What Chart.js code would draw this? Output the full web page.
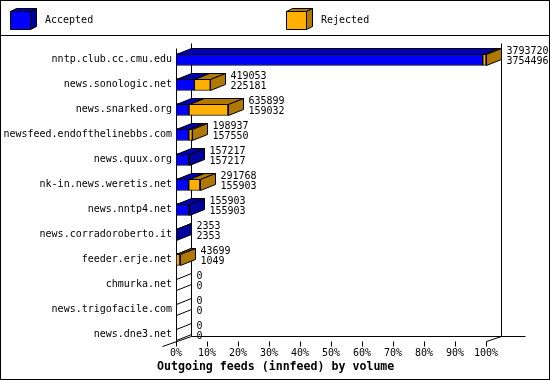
<!DOCTYPE html>
<html>
<head>
<meta charset="utf-8">
<script src="https://cdn.jsdelivr.net/npm/chart.js@4/dist/chart.umd.min.js"></script>
<style>
  body { margin: 0; background: #fff; }
  canvas { display: block; }
</style>
</head>
<body>
<canvas id="feeds" width="550" height="380"></canvas>
<script>
// innfeed outgoing feeds, by volume
const hosts = [
  "nntp.club.cc.cmu.edu",
  "news.sonologic.net",
  "news.snarked.org",
  "newsfeed.endofthelinebbs.com",
  "news.quux.org",
  "nk-in.news.weretis.net",
  "news.nntp4.net",
  "news.corradoroberto.it",
  "feeder.erje.net",
  "chmurka.net",
  "news.trigofacile.com",
  "news.dne3.net",
];
const offered = [3793720, 419053, 635899, 198937, 157217, 291768, 155903, 2353, 43699, 0, 0, 0];
const accepted = [3754496, 225181, 159032, 157550, 157217, 155903, 155903, 2353, 1049, 0, 0, 0];
const seriesNames = ["Accepted", "Rejected"];
const percentTicks = [0, 10, 20, 30, 40, 50, 60, 70, 80, 90, 100];
const chartTitle = "Outgoing feeds (innfeed) by volume";

const front = ["#0000FF", "#FFB000"];
const topShade = ["#0000B0", "#B07800"];
const sideShade = ["#00009C", "#B07800"];

const maxOffered = Math.max(...offered);
const pct = (v) => (v / maxOffered) * 100;
const rejected = offered.map((v, i) => v - accepted[i]);

const MONO = "'DejaVu Sans Mono', monospace";
const BAR = 12;
const DX = 15, DY = -6;   // bar depth
const WDY = -5;           // wall depth

const px = (v) => Math.round(v) + 0.5;

function face(ctx, pts, fill) {
  ctx.beginPath();
  ctx.moveTo(pts[0][0], pts[0][1]);
  for (let k = 1; k < pts.length; k++) ctx.lineTo(pts[k][0], pts[k][1]);
  ctx.closePath();
  if (fill) {
    ctx.fillStyle = fill;
    ctx.fill();
  }
  ctx.strokeStyle = "#000";
  ctx.lineWidth = 1;
  ctx.stroke();
}

function line(ctx, x1, y1, x2, y2) {
  ctx.beginPath();
  ctx.moveTo(x1, y1);
  ctx.lineTo(x2, y2);
  ctx.stroke();
}

const box3d = {
  id: "box3d",
  beforeDatasetsDraw(chart) {
    const { ctx, scales } = chart;
    const xs = scales.x, ys = scales.y;
    const left = px(xs.getPixelForValue(0));
    const right = px(xs.getPixelForValue(100));
    const topY = px(ys.getPixelForValue(0) - BAR / 2 - 6);
    const floorY = px(ys.getPixelForValue(hosts.length - 1) + BAR / 2);
    ctx.save();
    ctx.strokeStyle = "#000";
    ctx.lineWidth = 1;
    // walls
    line(ctx, left, topY, left, floorY);
    line(ctx, left + DX, topY + WDY, left + DX, floorY + WDY);
    line(ctx, right + DX, topY + WDY, right + DX, floorY + WDY);
    line(ctx, left + DX, floorY + WDY, right + DX + 24, floorY + WDY);
    line(ctx, left - 14, floorY + 5, left + DX, floorY + WDY);
    line(ctx, right, floorY, right + DX, floorY + WDY);
    // ticks on the front edge
    percentTicks.forEach((t) => {
      const x = px(xs.getPixelForValue(t));
      line(ctx, x, floorY, x, floorY + 5);
    });
    ctx.restore();
  },
  afterDatasetsDraw(chart) {
    const { ctx, scales } = chart;
    const left = scales.x.getPixelForValue(0);
    ctx.save();
    hosts.forEach((h, i) => {
      const segs = [];
      let yc = 0;
      chart.data.datasets.forEach((ds, d) => {
        const el = chart.getDatasetMeta(d).data[i];
        const p = el.getProps(["x", "base", "y"], true);
        yc = p.y;
        if (p.x - p.base > 0.01) segs.push({ x0: p.base, x1: p.x, d });
      });
      const yt = px(yc - BAR / 2);
      const yb = px(yc + BAR / 2) - 1;
      segs.forEach((s) => {
        const a = px(s.x0), b = px(s.x1);
        face(ctx, [[a, yt], [b, yt], [b + DX, yt + DY], [a + DX, yt + DY]], topShade[s.d]);
      });
      const last = segs[segs.length - 1];
      const end = px(last ? last.x1 : left);
      face(ctx, [[end, yt], [end + DX, yt + DY], [end + DX, yb + DY], [end, yb]],
        last ? sideShade[last.d] : null);
      // values: offered over accepted
      ctx.fillStyle = "#000";
      ctx.font = "10px " + MONO;
      ctx.textAlign = "left";
      ctx.textBaseline = "middle";
      ctx.fillText(String(offered[i]), end + DX + 5, yc - 8);
      ctx.fillText(String(accepted[i]), end + DX + 5, yc + 2);
    });
    ctx.restore();
  },
  afterDraw(chart) {
    const { ctx, width, height } = chart;
    ctx.save();
    ctx.strokeStyle = "#000";
    ctx.lineWidth = 1;
    ctx.strokeRect(0.5, 0.5, width - 1, height - 1);
    line(ctx, 0, 35.5, width, 35.5);
    // legend
    const spots = [10, 286];
    ctx.font = "10px " + MONO;
    ctx.textBaseline = "middle";
    ctx.textAlign = "left";
    seriesNames.forEach((name, d) => {
      const x = spots[d] + 0.5, y = 11.5, w = 20, hh = 18;
      face(ctx, [[x, y], [x + w, y], [x + w, y + hh], [x, y + hh]], front[d]);
      face(ctx, [[x, y], [x + w, y], [x + w + 6, y - 3], [x + 6, y - 3]], topShade[d]);
      face(ctx, [[x + w, y], [x + w + 6, y - 3], [x + w + 6, y + hh - 3], [x + w, y + hh]], sideShade[d]);
      ctx.fillStyle = "#000";
      ctx.fillText(name, spots[d] + 35, 20);
    });
    // title
    ctx.font = "bold 11.6px " + MONO;
    ctx.fillText(chartTitle, 157, 367);
    ctx.restore();
  },
};

new Chart(document.getElementById("feeds"), {
  type: "bar",
  data: {
    labels: hosts,
    datasets: [
      {
        label: seriesNames[0],
        data: accepted.map(pct),
        backgroundColor: front[0],
        borderColor: "#000",
        borderWidth: 1,
        borderSkipped: false,
        barThickness: BAR,
      },
      {
        label: seriesNames[1],
        data: rejected.map(pct),
        backgroundColor: front[1],
        borderColor: "#000",
        borderWidth: 1,
        borderSkipped: false,
        barThickness: BAR,
      },
    ],
  },
  options: {
    indexAxis: "y",
    responsive: false,
    animation: false,
    devicePixelRatio: 1,
    layout: { padding: { top: 47, left: 0, right: 64, bottom: 19 } },
    plugins: {
      legend: { display: false },
      tooltip: { enabled: false },
    },
    scales: {
      x: {
        stacked: true,
        min: 0,
        max: 100,
        afterFit: (s) => { s.height = 14; },
        afterBuildTicks: (s) => { s.ticks = percentTicks.map((v) => ({ value: v })); },
        grid: { display: false, drawTicks: false },
        border: { display: false },
        ticks: {
          color: "#000",
          padding: 0,
          maxRotation: 0,
          font: { family: MONO, size: 10 },
          callback: (v) => v + "%",
        },
      },
      y: {
        stacked: true,
        afterFit: (s) => { s.width = 176; },
        grid: { display: false, drawTicks: false },
        border: { display: false },
        ticks: {
          color: "#000",
          padding: 4,
          autoSkip: false,
          font: { family: MONO, size: 10 },
        },
      },
    },
  },
  plugins: [box3d],
});
</script>
</body>
</html>
